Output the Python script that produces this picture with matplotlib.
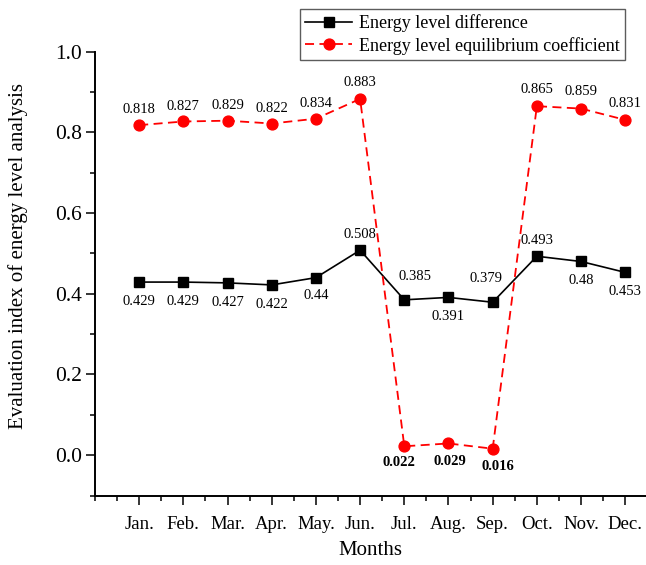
import matplotlib
matplotlib.use("Agg")
import matplotlib.pyplot as plt
from matplotlib.ticker import MultipleLocator

plt.rcParams['font.family'] = ['Liberation Serif', 'DejaVu Serif']
plt.rcParams['mathtext.fontset'] = 'stix'

months = ["Jan.", "Feb.", "Mar.", "Apr.", "May.", "Jun.", "Jul.", "Aug.", "Sep.", "Oct.", "Nov.", "Dec."]
level_diff = [0.429, 0.429, 0.427, 0.422, 0.44, 0.508, 0.385, 0.391, 0.379, 0.493, 0.48, 0.453]
equil_coef = [0.818, 0.827, 0.829, 0.822, 0.834, 0.883, 0.022, 0.029, 0.016, 0.865, 0.859, 0.831]
diff_labels = ["0.429", "0.429", "0.427", "0.422", "0.44", "0.508", "0.385", "0.391", "0.379", "0.493", "0.48", "0.453"]
coef_labels = ["0.818", "0.827", "0.829", "0.822", "0.834", "0.883", "0.022", "0.029", "0.016", "0.865", "0.859", "0.831"]
yticks = [0.0, 0.2, 0.4, 0.6, 0.8, 1.0]
ytick_labels = ["0.0", "0.2", "0.4", "0.6", "0.8", "1.0"]

W, H = 646, 565
fig = plt.figure(figsize=(W / 100, H / 100), dpi=100)
ax = fig.add_axes([95 / W, 1 - 495.5 / H, 1 - 95 / W, (495.5 - 51.7) / H])

x = list(range(1, len(months) + 1))
l1, = ax.plot(x, level_diff, color='black', lw=1.2, marker='s', markersize=6.5,
              label='Energy level difference', zorder=3)
l2, = ax.plot(x, equil_coef, color='#ff0000', lw=1.3, dashes=(5, 3), marker='o',
              markersize=7.8, label='Energy level equilibrium coefficient', zorder=3)

ax.set_xlim(0, 12.47)
ax.set_ylim(-0.1, 1.0)
ax.set_xticks(x)
ax.set_xticklabels(months, fontsize=13.5)
ax.xaxis.set_minor_locator(MultipleLocator(0.5))
ax.yaxis.set_minor_locator(MultipleLocator(0.1))
ax.set_yticks(yticks)
ax.set_yticklabels(ytick_labels, fontsize=15.5)
ax.tick_params(which='major', direction='out', length=6.5, width=1.1, pad=3)
ax.tick_params(which='minor', direction='out', length=3.5, width=1.1)
ax.tick_params(axis='x', which='major', pad=8)
for s in ['top', 'right']:
    ax.spines[s].set_visible(False)
for s in ['left', 'bottom']:
    ax.spines[s].set_linewidth(1.4)

ax.set_xlabel('Months', fontsize=15, labelpad=6)
ax.set_ylabel('Evaluation index of energy level analysis', fontsize=15)
ax.yaxis.set_label_coords((28 - 95) / 551, 0.54)

# black series annotations (offset in points)
diff_off = [(0, -14), (0, -14), (0, -14), (0, -14), (0, -13), (0, 11),
            (8, 17), (0, -14), (-5, 17), (0, 11), (0, -14), (0, -14)]
for xi, yi, t, (dx, dy) in zip(x, level_diff, diff_labels, diff_off):
    ax.annotate(t, (xi, yi), xytext=(dx, dy), textcoords='offset points',
                ha='center', va='center', fontsize=10.5)

coef_off = [(0, 11), (0, 11), (0, 11), (0, 11), (0, 11), (0, 12),
            (-4, -12), (1, -13), (4, -13), (0, 12), (0, 12), (0, 12)]
for i, (xi, yi, t, (dx, dy)) in enumerate(zip(x, equil_coef, coef_labels, coef_off)):
    bold = 6 <= i <= 8
    ax.annotate(t, (xi, yi), xytext=(dx, dy), textcoords='offset points',
                ha='center', va='center', fontsize=10.5,
                fontweight='bold' if bold else 'normal')

leg = fig.legend(handles=[l1, l2], loc='upper left',
                 bbox_to_anchor=(300 / W, 1 - 9 / H), fontsize=13,
                 frameon=True, fancybox=False, handlelength=2.6,
                 handletextpad=0.35, borderpad=0.3, labelspacing=0.25,
                 borderaxespad=0)
leg.get_frame().set_edgecolor('#333333')
leg.get_frame().set_linewidth(1.0)

fig.savefig('out.png', dpi=100)
